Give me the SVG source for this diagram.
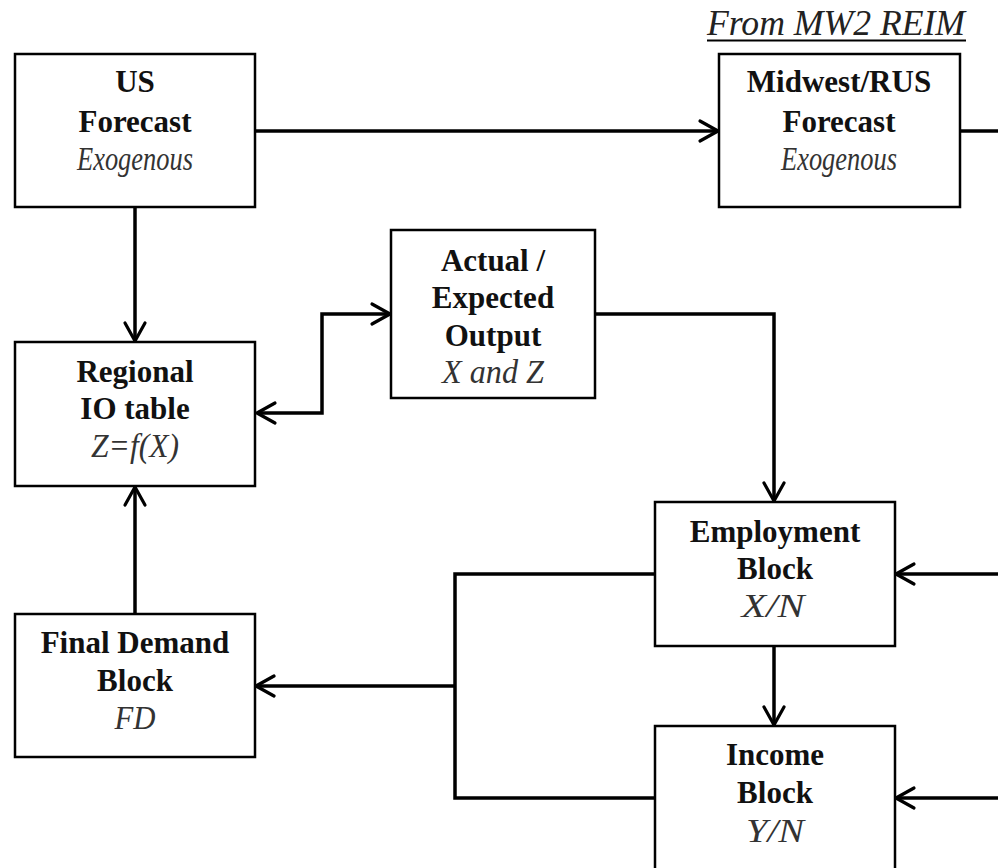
<svg xmlns="http://www.w3.org/2000/svg" width="998" height="868" viewBox="0 0 998 868">
  <defs>
    <marker id="arrow" markerUnits="userSpaceOnUse" viewBox="-22 -13 26 26" refX="0" refY="0" markerWidth="26" markerHeight="26" orient="auto-start-reverse" overflow="visible">
      <path d="M -18,-10 L 0,0 L -18,10" fill="none" stroke="#000" stroke-width="3.2" stroke-linejoin="round" stroke-linecap="round"/>
    </marker>
    <style>
      .box { fill: #fff; stroke: #000; stroke-width: 2.5; }
      .title { font-family: "Liberation Serif", "Times New Roman", serif; font-weight: bold; font-size: 31px; fill: #111; text-anchor: middle; }
      .sub { font-family: "Liberation Serif", "Times New Roman", serif; font-style: italic; font-size: 33px; fill: #333; text-anchor: middle; }
      .wire { fill: none; stroke: #000; stroke-width: 3.5; stroke-linejoin: miter; }
      .head { marker-end: url(#arrow); }
      .note { font-family: "Liberation Serif", "Times New Roman", serif; font-style: italic; font-size: 35px; fill: #222; text-anchor: middle; }
    </style>
  </defs>

  <rect width="998" height="868" fill="#fff"/>

  <!-- connectors -->
  <g id="connectors">
    <path class="wire head" d="M 255,131 L 718,131"/>
    <path class="wire" d="M 960,131 L 998,131"/>
    <path class="wire head" d="M 135,207 L 135,341"/>
    <path class="wire" d="M 257,413 L 322,413 L 322,314 L 390,314" marker-start="url(#arrow)" marker-end="url(#arrow)"/>
    <path class="wire head" d="M 595,314 L 774,314 L 774,501"/>
    <path class="wire head" d="M 774,646 L 774,725"/>
    <path class="wire head" d="M 998,574 L 896,574"/>
    <path class="wire head" d="M 998,798 L 896,798"/>
    <path class="wire" d="M 655,574 L 455,574 L 455,798 L 655,798"/>
    <path class="wire head" d="M 455,686 L 256,686"/>
    <path class="wire head" d="M 135,614 L 135,487"/>
  </g>

  <!-- source label -->
  <g id="source-label">
    <text class="note" x="836" y="35" textLength="258" lengthAdjust="spacingAndGlyphs">From MW2 REIM</text>
    <line x1="707" y1="40.5" x2="966" y2="40.5" stroke="#000" stroke-width="2"/>
  </g>

  <g id="us-forecast">
    <rect class="box" x="15" y="54" width="240" height="153"/>
    <text class="title" x="135" y="92">US</text>
    <text class="title" x="135" y="132">Forecast</text>
    <text class="sub" x="135" y="170" textLength="116" lengthAdjust="spacingAndGlyphs">Exogenous</text>
  </g>

  <g id="midwest-forecast">
    <rect class="box" x="719" y="54" width="241" height="153"/>
    <text class="title" x="839" y="92">Midwest/RUS</text>
    <text class="title" x="839" y="132">Forecast</text>
    <text class="sub" x="839" y="170" textLength="116" lengthAdjust="spacingAndGlyphs">Exogenous</text>
  </g>

  <g id="regional-io">
    <rect class="box" x="15" y="342" width="240" height="144"/>
    <text class="title" x="135" y="382">Regional</text>
    <text class="title" x="135" y="419">IO table</text>
    <text class="sub" x="135" y="457" textLength="88" lengthAdjust="spacingAndGlyphs">Z=f(X)</text>
  </g>

  <g id="actual-output">
    <rect class="box" x="391" y="230" width="204" height="168"/>
    <text class="title" x="493" y="271">Actual /</text>
    <text class="title" x="493" y="308">Expected</text>
    <text class="title" x="493" y="346">Output</text>
    <text class="sub" x="493" y="383" textLength="102" lengthAdjust="spacingAndGlyphs">X and Z</text>
  </g>

  <g id="employment">
    <rect class="box" x="655" y="502" width="240" height="144"/>
    <text class="title" x="775" y="542">Employment</text>
    <text class="title" x="775" y="579">Block</text>
    <text class="sub" x="773" y="617" textLength="63" lengthAdjust="spacingAndGlyphs">X/N</text>
  </g>

  <g id="income">
    <rect class="box" x="655" y="726" width="240" height="150"/>
    <text class="title" x="775" y="765">Income</text>
    <text class="title" x="775" y="803">Block</text>
    <text class="sub" x="775" y="842" textLength="58" lengthAdjust="spacingAndGlyphs">Y/N</text>
  </g>

  <g id="final-demand">
    <rect class="box" x="15" y="614" width="240" height="143"/>
    <text class="title" x="135" y="653">Final Demand</text>
    <text class="title" x="135" y="691">Block</text>
    <text class="sub" x="135" y="729" textLength="41" lengthAdjust="spacingAndGlyphs">FD</text>
  </g>
</svg>
